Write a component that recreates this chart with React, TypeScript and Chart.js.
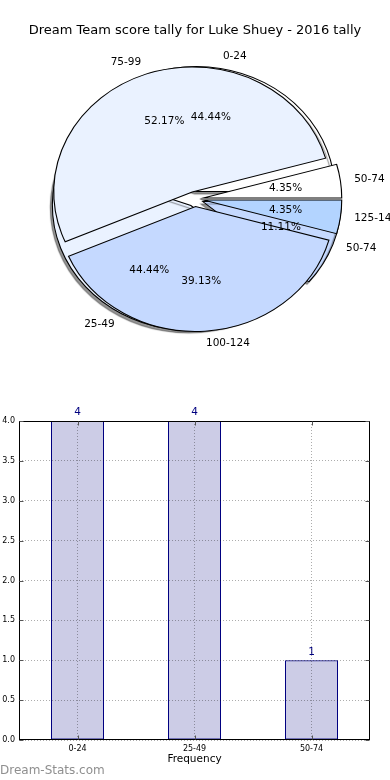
import React, { useEffect, useRef } from "react";
import { Chart, registerables, ArcElement, PieController } from "chart.js";

Chart.register(...registerables);

// ---------- data ----------
const TITLE = "Dream Team score tally for Luke Shuey - 2016 tally";
const PIE_A_LABELS = ["0-24", "25-49", "50-74"];
const PIE_A_VALUES = [4, 4, 1];
const PIE_B_LABELS = ["50-74", "75-99", "100-124", "125-149"];
const PIE_B_VALUES = [1, 12, 9, 1];
const PIE_COLORS = ["#ffffff", "#eaf2ff", "#c5d9ff", "#b3d4ff"];
const BAR_LABELS = ["0-24", "25-49", "50-74"];
const BAR_VALUES = [4, 4, 1];
const Y_MAX = 4;
const Y_STEP = 0.5;
const X_TITLE = "Frequency";
const WATERMARK = "Dream-Stats.com";

// ---------- style ----------
const FONT = "'DejaVu Sans', sans-serif";
const PIE_RADIUS = 125;
const SX = 138.5 / 125; // horizontal stretch (elliptical pie)
const EXPLODE = 7.5;

class ExplodedArc extends ArcElement {
  static id = "explodedArc";
  draw(ctx: CanvasRenderingContext2D) {
    const self = this as any;
    const mid = (self.startAngle + self.endAngle) / 2;
    ctx.save();
    ctx.translate(Math.cos(mid) * EXPLODE, Math.sin(mid) * EXPLODE);
    super.draw(ctx);
    ctx.restore();
  }
}
class ExplodedPieController extends PieController {
  static id = "explodedPie";
  static defaults = { dataElementType: "explodedArc" };
}
Chart.register(ExplodedArc as any, ExplodedPieController as any);

const ellipsePlugin = (shadow: boolean) => ({
  id: "ellipse",
  beforeDatasetsDraw(chart: any) {
    const ctx = chart.ctx;
    const a = chart.chartArea;
    const cx = (a.left + a.right) / 2;
    const cy = (a.top + a.bottom) / 2;
    ctx.save();
    ctx.translate(cx, cy);
    ctx.scale(SX, -1);
    ctx.translate(-cx, -cy);
    if (shadow) {
      ctx.shadowColor = "rgba(0,0,0,0.42)";
      ctx.shadowOffsetX = -2;
      ctx.shadowOffsetY = 2.5;
      ctx.shadowBlur = 1;
    }
  },
  afterDatasetsDraw(chart: any) {
    chart.ctx.restore();
  },
});

function pieConfig(labels: string[], values: number[], plugins: any[]) {
  return {
    type: "explodedPie" as any,
    data: {
      labels,
      datasets: [
        {
          data: values,
          backgroundColor: PIE_COLORS.slice(0, values.length),
          borderColor: "#000000",
          borderWidth: 1,
          borderJoinStyle: "miter",
          hoverOffset: 0,
          clip: false,
        },
      ],
    },
    options: {
      animation: false,
      responsive: false,
      rotation: 90,
      radius: PIE_RADIUS,
      layout: { padding: { left: 0, right: 0, top: 18, bottom: 0 } },
      plugins: { legend: { display: false }, tooltip: { enabled: false } },
      events: [],
    },
    plugins,
  };
}

function drawPieLabels(ctx: CanvasRenderingContext2D, chart: any) {
  const meta = chart.getDatasetMeta(0);
  const values = chart.data.datasets[0].data as number[];
  const labels = chart.data.labels as string[];
  const total = values.reduce((s, v) => s + v, 0);
  meta.data.forEach((arc: any, i: number) => {
    const cx = arc.x;
    const cy = arc.y;
    const mid = (arc.startAngle + arc.endAngle) / 2;
    const r = arc.outerRadius;
    const toPage = (d: number) => {
      const x = cx + Math.cos(mid) * (EXPLODE + d * r);
      const y = cy + Math.sin(mid) * (EXPLODE + d * r);
      return [cx + SX * (x - cx), cy - (y - cy)];
    };
    const [lx, ly] = toPage(1.1);
    ctx.textAlign = lx > cx ? "left" : "right";
    ctx.fillText(labels[i], lx, ly);
    const [px, py] = toPage(0.6);
    ctx.textAlign = "center";
    ctx.fillText(((values[i] / total) * 100).toFixed(2) + "%", px, py);
  });
}

export default function App() {
  const pieARef = useRef<HTMLCanvasElement>(null);
  const pieBRef = useRef<HTMLCanvasElement>(null);
  const barRef = useRef<HTMLCanvasElement>(null);

  useEffect(() => {
    const chartA = new Chart(
      pieARef.current as HTMLCanvasElement,
      pieConfig(PIE_A_LABELS, PIE_A_VALUES, [ellipsePlugin(true)]) as any
    );

    const labelPlugin = {
      id: "pieLabels",
      afterDraw(chart: any) {
        const ctx = chart.ctx as CanvasRenderingContext2D;
        ctx.save();
        ctx.font = `10.5px ${FONT}`;
        ctx.fillStyle = "#000000";
        ctx.textBaseline = "middle";
        drawPieLabels(ctx, chartA);
        drawPieLabels(ctx, chart);
        ctx.restore();
      },
    };

    const chartB = new Chart(
      pieBRef.current as HTMLCanvasElement,
      pieConfig(PIE_B_LABELS, PIE_B_VALUES, [ellipsePlugin(false), labelPlugin]) as any
    );

    const barDecor = {
      id: "barDecor",
      afterDatasetsDraw(chart: any) {
        const ctx = chart.ctx as CanvasRenderingContext2D;
        const meta = chart.getDatasetMeta(0);
        const vals = chart.data.datasets[0].data as number[];
        ctx.save();
        ctx.font = `10.5px ${FONT}`;
        ctx.fillStyle = "#000080";
        ctx.textAlign = "center";
        ctx.textBaseline = "bottom";
        meta.data.forEach((bar: any, i: number) => {
          ctx.fillText(String(vals[i]), bar.x, bar.y - 3);
        });
        ctx.restore();
      },
      afterDraw(chart: any) {
        const ctx = chart.ctx as CanvasRenderingContext2D;
        const a = chart.chartArea;
        ctx.save();
        ctx.setLineDash([]);
        ctx.strokeStyle = "#000000";
        ctx.lineWidth = 1;
        const l = Math.round(a.left) + 0.5;
        const t = Math.round(a.top) + 0.5;
        const rr = Math.round(a.right) - 0.5;
        const b = Math.round(a.bottom) - 0.5;
        ctx.strokeRect(l, t, rr - l, b - t);
        // inner tick marks
        ctx.strokeStyle = "#555555";
        ctx.beginPath();
        const ys = chart.scales.y;
        ys.ticks.forEach((tk: any) => {
          const py = Math.round(ys.getPixelForValue(tk.value)) + 0.5;
          ctx.moveTo(l, py);
          ctx.lineTo(l + 4, py);
          ctx.moveTo(rr, py);
          ctx.lineTo(rr - 4, py);
        });
        const xs = chart.scales.x;
        xs.ticks.forEach((tk: any, i: number) => {
          const px = Math.round(xs.getPixelForTick(i)) + 0.5;
          ctx.moveTo(px, b);
          ctx.lineTo(px, b - 4);
          ctx.moveTo(px, t);
          ctx.lineTo(px, t + 4);
        });
        ctx.stroke();
        ctx.restore();
      },
    };

    const gridStyle = {
      color: "rgba(0,0,0,0.32)",
      lineWidth: 1,
      drawTicks: false,
      z: 1,
    };

    const chartBar = new Chart(barRef.current as HTMLCanvasElement, {
      type: "bar",
      data: {
        labels: BAR_LABELS,
        datasets: [
          {
            data: BAR_VALUES,
            backgroundColor: "rgba(0,0,128,0.2)",
            borderColor: "#000080",
            borderWidth: 1,
            borderSkipped: false,
            categoryPercentage: 1,
            barPercentage: 0.453,
          },
        ],
      },
      options: {
        animation: false,
        responsive: false,
        events: [],
        layout: { padding: { left: 0, right: 20, top: 31, bottom: 10 } },
        plugins: { legend: { display: false }, tooltip: { enabled: false } },
        scales: {
          x: {
            grid: { ...gridStyle, offset: false },
            border: { display: false, dash: [1, 2] },
            ticks: {
              font: { family: FONT, size: 8 },
              color: "#000000",
              padding: 4,
              maxRotation: 0,
              autoSkip: false,
            },
            title: {
              display: true,
              text: X_TITLE,
              font: { family: FONT, size: 10.5 },
              color: "#000000",
              padding: { top: 0, bottom: 4 },
            },
            afterFit: (s: any) => {
              s.height = 30;
            },
          },
          y: {
            min: 0,
            max: Y_MAX,
            grid: gridStyle,
            border: { display: false, dash: [1, 2] },
            ticks: {
              stepSize: Y_STEP,
              font: { family: FONT, size: 8 },
              color: "#000000",
              padding: 4,
              callback: (v: any) => Number(v).toFixed(1),
            },
            afterFit: (s: any) => {
              s.width = 19;
            },
          },
        },
      },
      plugins: [barDecor],
    } as any);

    return () => {
      chartA.destroy();
      chartB.destroy();
      chartBar.destroy();
    };
  }, []);

  return (
    <div
      style={{
        position: "absolute",
        left: 0,
        top: 0,
        width: 390,
        height: 780,
        background: "#ffffff",
        overflow: "hidden",
      }}
    >
      <canvas
        ref={pieARef}
        width={390}
        height={380}
        style={{ position: "absolute", left: 0, top: 0, display: "block" }}
      />
      <canvas
        ref={pieBRef}
        width={390}
        height={380}
        style={{ position: "absolute", left: 0, top: 0, display: "block" }}
      />
      <div
        style={{
          position: "absolute",
          left: 0,
          top: 22,
          width: 390,
          textAlign: "center",
          fontFamily: FONT,
          fontSize: 13,
          lineHeight: "16px",
          color: "#000000",
          whiteSpace: "nowrap",
        }}
      >
        {TITLE}
      </div>
      <canvas
        ref={barRef}
        width={390}
        height={390}
        style={{ position: "absolute", left: 0, top: 390, display: "block" }}
      />
      <div
        style={{
          position: "absolute",
          left: 0,
          top: 763,
          fontFamily: FONT,
          fontSize: 12,
          lineHeight: "15px",
          color: "#8f8f8f",
          whiteSpace: "nowrap",
        }}
      >
        {WATERMARK}
      </div>
    </div>
  );
}
